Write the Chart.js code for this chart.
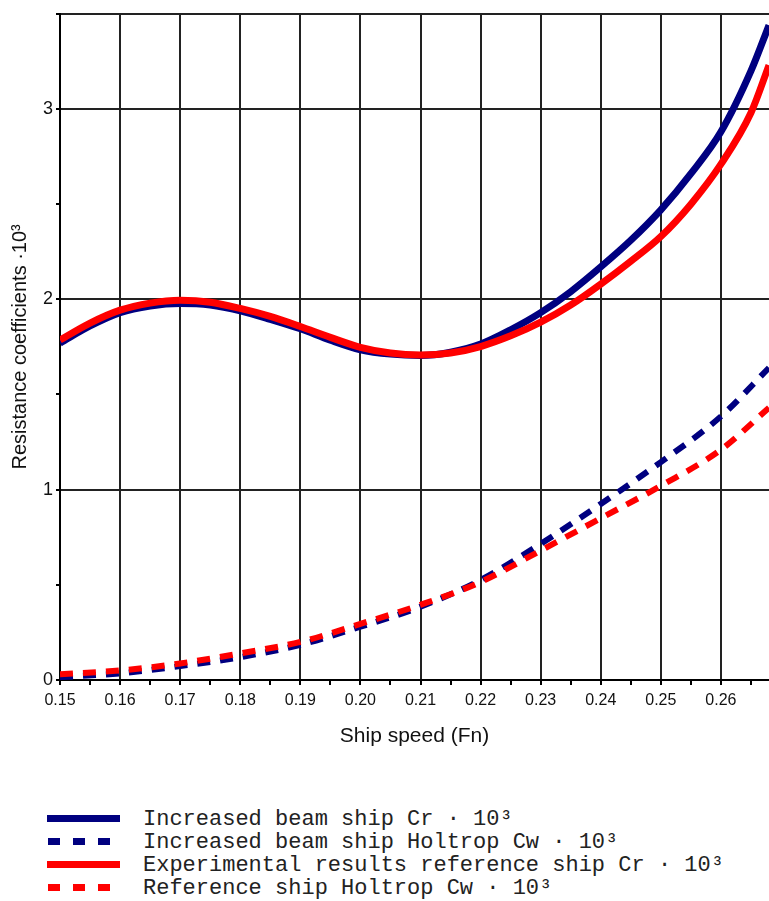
<!DOCTYPE html>
<html>
<head>
<meta charset="utf-8">
<script src="https://cdn.jsdelivr.net/npm/chart.js@4.4.1/dist/chart.umd.min.js"></script>
<style>
  body { margin: 0; background: #fff; }
  #wrap { position: relative; width: 769px; height: 901px; overflow: hidden; }
  #chart { position: absolute; left: 0; top: 0; }
  #legend { position: absolute; left: 47px; top: 808px; font-family: "Liberation Mono", "DejaVu Sans Mono", monospace; font-size: 22px; line-height: 23px; color: #222; }
  .row { position: relative; height: 23px; }
  .sample { position: absolute; left: 0; top: 7px; width: 73px; height: 7px; }
  .dash { width: 63px; }
  .txt { position: absolute; left: 96px; top: 0; white-space: pre; }
</style>
</head>
<body>
<div id="wrap">
  <canvas id="chart" width="769" height="760"></canvas>
  <div id="legend"></div>
</div>
<script>
const fnCr = [0.15, 0.155, 0.16, 0.165, 0.17, 0.175, 0.18, 0.185, 0.19, 0.195, 0.20, 0.205,
              0.21, 0.215, 0.22, 0.225, 0.23, 0.235, 0.24, 0.245, 0.25, 0.255, 0.26, 0.265, 0.268];
const beamCr = [1.77, 1.86, 1.93, 1.965, 1.978, 1.97, 1.94, 1.895, 1.845, 1.785, 1.735, 1.712,
                1.705, 1.722, 1.765, 1.84, 1.93, 2.04, 2.17, 2.31, 2.47, 2.66, 2.88, 3.2, 3.44];
const refCr = [1.786, 1.875, 1.943, 1.98, 1.995, 1.985, 1.952, 1.91, 1.857, 1.80, 1.748, 1.718,
               1.708, 1.718, 1.752, 1.808, 1.88, 1.97, 2.08, 2.2, 2.33, 2.5, 2.71, 2.98, 3.23];

const fnCw = [0.15, 0.16, 0.17, 0.18, 0.19, 0.20, 0.21, 0.22, 0.23, 0.24, 0.25, 0.26, 0.268];
const beamCw = [0.015, 0.035, 0.073, 0.12, 0.185, 0.28, 0.385, 0.525, 0.715, 0.925, 1.145, 1.385, 1.64];
const refCw = [0.03, 0.05, 0.087, 0.14, 0.20, 0.295, 0.395, 0.515, 0.68, 0.85, 1.02, 1.21, 1.43];

const seriesNames = [
  "Increased beam ship Cr · 10³",
  "Increased beam ship Holtrop Cw · 10³",
  "Experimental results reference ship Cr · 10³",
  "Reference ship Holtrop Cw · 10³"
];

const NAVY = "#000080";
const RED = "#ff0000";
const FONT = "'Liberation Sans', Arial, sans-serif";

function pts(xs, ys) {
  return xs.map((x, i) => ({ x: x, y: ys[i] }));
}

function line(label, xs, ys, color, dashed, order) {
  return {
    label: label,
    data: pts(xs, ys),
    borderColor: color,
    borderWidth: dashed ? 6 : 7,
    borderDash: dashed ? [13, 10] : [],
    borderCapStyle: "butt",
    pointRadius: 0,
    fill: false,
    cubicInterpolationMode: "monotone",
    order: order
  };
}

new Chart(document.getElementById("chart").getContext("2d"), {
  type: "line",
  data: {
    datasets: [
      line(seriesNames[0], fnCr, beamCr, NAVY, false, 2),
      line(seriesNames[1], fnCw, beamCw, NAVY, true, 2),
      line(seriesNames[2], fnCr, refCr, RED, false, 1),
      line(seriesNames[3], fnCw, refCw, RED, true, 1)
    ]
  },
  options: {
    responsive: false,
    animation: false,
    devicePixelRatio: 1,
    layout: { padding: { top: 11, right: 0, left: 0, bottom: 0 } },
    plugins: { legend: { display: false }, tooltip: { enabled: false } },
    scales: {
      x: {
        type: "linear",
        min: 0.15,
        max: 0.268,
        afterFit: s => { s.height = 80; },
        ticks: {
          stepSize: 0.005,
          includeBounds: false,
          autoSkip: false,
          maxRotation: 0,
          padding: 6,
          color: "#111",
          font: { family: FONT, size: 16 },
          callback: v => Math.round(v * 1000) % 10 === 0 ? v.toFixed(2) : ""
        },
        grid: {
          color: c => (c.tick && Math.round(c.tick.value * 1000) % 10 === 0) ? "#222" : "rgba(0,0,0,0)",
          lineWidth: 2,
          tickColor: "#000",
          tickLength: 5
        },
        border: { color: "#000", width: 2 },
        title: {
          display: true,
          text: "Ship speed (Fn)",
          color: "#111",
          font: { family: FONT, size: 21 },
          padding: { top: 0, bottom: 11 }
        }
      },
      y: {
        min: 0,
        max: 3.5,
        afterFit: s => { s.width = 60; },
        ticks: {
          stepSize: 0.5,
          padding: 3,
          color: "#111",
          font: { family: FONT, size: 18 },
          callback: v => Number.isInteger(v) ? String(v) : ""
        },
        grid: {
          color: c => (c.tick && (Number.isInteger(c.tick.value) || c.tick.value === 3.5)) ? "#222" : "rgba(0,0,0,0)",
          lineWidth: 2,
          tickColor: "#000",
          tickLength: 4
        },
        border: { color: "#000", width: 2 },
        title: {
          display: true,
          text: "Resistance coefficients ·10³",
          color: "#111",
          font: { family: FONT, size: 20 },
          padding: { top: 8, bottom: 0 }
        }
      }
    }
  }
});

// legend below the plot
const legendColors = [NAVY, NAVY, RED, RED];
const legendDashed = [false, true, false, true];
const legend = document.getElementById("legend");
seriesNames.forEach((name, i) => {
  const row = document.createElement("div");
  row.className = "row";
  const s = document.createElement("span");
  s.className = legendDashed[i] ? "sample dash" : "sample";
  s.style.background = legendDashed[i]
    ? "repeating-linear-gradient(to right, transparent 0 1px, " + legendColors[i] + " 1px 13px, transparent 13px 25px)"
    : legendColors[i];
  const t = document.createElement("span");
  t.className = "txt";
  t.textContent = name;
  row.appendChild(s);
  row.appendChild(t);
  legend.appendChild(row);
});
</script>
</body>
</html>
